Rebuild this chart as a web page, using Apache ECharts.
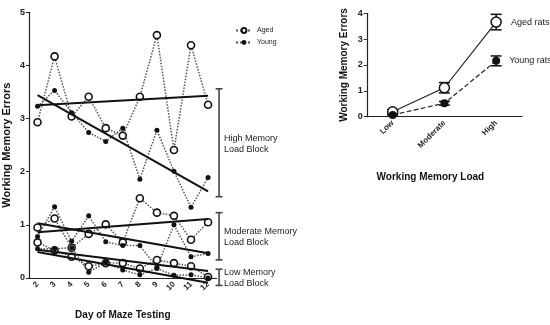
<!DOCTYPE html>
<html><head><meta charset="utf-8">
<script src="https://cdn.jsdelivr.net/npm/echarts@6/dist/echarts.min.js"></script>
<style>html,body{margin:0;padding:0;background:#fff}#c{width:550px;height:325px}</style>
</head><body><div id="c"></div>
<script>
// ---- Left panel data (days of maze testing) ----
const days = ['2','3','4','5','6','7','8','9','10','11','12'];
const agedHigh  = [2.93,4.17,3.04,3.41,2.82,2.68,3.41,4.57,2.41,4.38,3.26];
const youngHigh = [3.23,3.53,3.11,2.74,2.57,2.82,1.86,2.78,2.01,1.33,1.89];
const agedMod   = [0.95,1.12,0.57,0.83,1.01,0.67,1.50,1.23,1.17,0.72,1.05];
const youngMod  = [0.78,1.34,0.69,1.17,0.68,0.61,0.61,0.20,1.00,0.40,0.46];
const agedLow   = [0.67,0.52,0.40,0.22,0.28,0.28,0.18,0.34,0.28,0.22,0.02];
const youngLow  = [0.55,0.55,0.57,0.11,0.29,0.15,0.06,0.18,0.05,0.06,0.00];
// trend line end values (day 2, day 12)
const trendAgedHigh  = [3.25,3.43];
const trendYoungHigh = [3.44,1.63];
const trendAgedMod   = [0.86,1.11];
const trendYoungMod  = [1.03,0.465];
const trendAgedLow   = [0.53,0.13];
const trendYoungLow  = [0.49,-0.09];
// block brackets: [top, bottom]
const blockNames = ['High Memory\nLoad Block','Moderate Memory\nLoad Block','Low Memory\nLoad Block'];
const blockTop    = [3.56,1.23,0.165];
const blockBottom = [1.53,0.34,-0.14];
// ---- Right panel data ----
const loads = ['Low','Moderate','High'];
const agedRats  = [0.19,1.12,3.66];
const agedErr   = [0.08,0.20,0.30];
const youngRats = [0.07,0.52,2.16];
const youngErr  = [0.04,0.07,0.19];

const FONT = '"Liberation Sans", Arial, sans-serif';
const chart = echarts.init(document.getElementById('c'), null, {renderer:'canvas'});

function dotted(name, data, aged){
  return {
    type:'line', name:name, xAxisIndex:0, yAxisIndex:0, data:data,
    symbol:'circle', symbolSize: aged?7:5, showSymbol:true,
    itemStyle: aged?{color:'#fff',borderColor:'#111',borderWidth:1.6}:{color:'#111',borderColor:'#111',borderWidth:0},
    lineStyle:{type:'dotted',width:1.5,color:'#555'},
    z: aged?4:5, animation:false
  };
}
function trend(vals){
  return {
    type:'line', xAxisIndex:0, yAxisIndex:0, clip:false,
    data:[[days[0],vals[0]],[days[days.length-1],vals[1]]],
    symbol:'none', lineStyle:{type:'solid',width:2,color:'#111'}, z:6, animation:false, silent:true
  };
}
function errBars(vals, errs){
  return {
    type:'custom', xAxisIndex:1, yAxisIndex:1, z:3, animation:false,
    data: vals.map((v,i)=>[i, v-errs[i], v+errs[i]]),
    renderItem:function(params, api){
      const lo = api.coord([api.value(0), api.value(1)]);
      const hi = api.coord([api.value(0), api.value(2)]);
      const x = lo[0], w = 5.5;
      const st = {stroke:'#111', lineWidth:1.5};
      return {type:'group', children:[
        {type:'line', shape:{x1:x,y1:lo[1],x2:x,y2:hi[1]}, style:st},
        {type:'line', shape:{x1:x-w,y1:lo[1],x2:x+w,y2:lo[1]}, style:st},
        {type:'line', shape:{x1:x-w,y1:hi[1],x2:x+w,y2:hi[1]}, style:st}
      ]};
    }
  };
}

const option = {
  backgroundColor:'#fff',
  textStyle:{fontFamily:FONT},
  animation:false,
  legend:{
    data:['Aged','Young'], orient:'vertical', left:230, top:22, itemGap:5,
    itemWidth:16, itemHeight:6, textStyle:{fontSize:7,color:'#222',fontFamily:FONT}
  },
  grid:[
    {left:29, top:12.3, width:187.6, height:272},
    {left:366.8, top:13.3, width:155.2, height:103.4}
  ],
  xAxis:[
    {type:'category', gridIndex:0, data:days, boundaryGap:true,
     axisLine:{lineStyle:{color:'#222',width:1.2}},
     axisTick:{alignWithLabel:true, length:3, lineStyle:{color:'#222'}},
     axisLabel:{rotate:45, fontSize:8, fontWeight:'bold', color:'#222', margin:5, fontFamily:FONT},
     name:'Day of Maze Testing', nameLocation:'middle', nameGap:32,
     nameTextStyle:{fontSize:10, fontWeight:'bold', color:'#111', fontFamily:FONT}},
    {type:'category', gridIndex:1, data:loads, boundaryGap:true,
     axisLine:{lineStyle:{color:'#222',width:1.2}},
     axisTick:{alignWithLabel:true, length:3, lineStyle:{color:'#222'}},
     axisLabel:{rotate:45, fontSize:8, fontWeight:'bold', color:'#222', margin:5, fontFamily:FONT},
     name:'Working Memory Load', nameLocation:'middle', nameGap:56,
     nameTextStyle:{fontSize:10, fontWeight:'bold', color:'#111', padding:[0,28,0,0], fontFamily:FONT}}
  ],
  yAxis:[
    {type:'value', gridIndex:0, min:0, max:5, interval:1,
     axisLine:{show:true, lineStyle:{color:'#222',width:1.2}},
     axisTick:{show:true, length:3, lineStyle:{color:'#222'}},
     splitLine:{show:false},
     axisLabel:{fontSize:9, fontWeight:'bold', color:'#222', margin:4, fontFamily:FONT},
     name:'Working Memory Errors', nameLocation:'middle', nameGap:17,
     nameTextStyle:{fontSize:11, fontWeight:'bold', color:'#111', fontFamily:FONT}},
    {type:'value', gridIndex:1, min:0, max:4, interval:1,
     axisLine:{show:true, lineStyle:{color:'#222',width:1.2}},
     axisTick:{show:true, length:3, lineStyle:{color:'#222'}},
     splitLine:{show:false},
     axisLabel:{fontSize:9, fontWeight:'bold', color:'#222', margin:4, fontFamily:FONT},
     name:'Working Memory Errors', nameLocation:'middle', nameGap:18,
     nameTextStyle:{fontSize:10, fontWeight:'bold', color:'#111', fontFamily:FONT}}
  ],
  series:[
    dotted('Aged', agedHigh, true),
    dotted('Young', youngHigh, false),
    dotted('Aged', agedMod, true),
    dotted('Young', youngMod, false),
    dotted('Aged', agedLow, true),
    dotted('Young', youngLow, false),
    trend(trendAgedHigh), trend(trendYoungHigh),
    trend(trendAgedMod), trend(trendYoungMod),
    trend(trendAgedLow), trend(trendYoungLow),
    {
      type:'custom', xAxisIndex:0, yAxisIndex:0, clip:false, silent:true, animation:false,
      data: blockTop.map((t,i)=>[days.length-1, t, blockBottom[i]]),
      renderItem:function(params, api){
        const a = api.coord([api.value(0), api.value(1)]);
        const b = api.coord([api.value(0), api.value(2)]);
        const x = a[0] + 11, w = 3.5;
        const st = {stroke:'#444', lineWidth:1.6};
        return {type:'group', children:[
          {type:'line', shape:{x1:x,y1:a[1],x2:x,y2:b[1]}, style:st},
          {type:'line', shape:{x1:x-w,y1:a[1],x2:x+w,y2:a[1]}, style:st},
          {type:'line', shape:{x1:x-w,y1:b[1],x2:x+w,y2:b[1]}, style:st},
          {type:'text', style:{x:x+5, y:(a[1]+b[1])/2+1, text:blockNames[params.dataIndex],
            fill:'#222', font:'9px '+FONT, verticalAlign:'middle', align:'left', lineHeight:11}}
        ]};
      }
    },
    errBars(agedRats, agedErr),
    errBars(youngRats, youngErr),
    {
      type:'line', name:'Aged rats', xAxisIndex:1, yAxisIndex:1, animation:false,
      data: agedRats.map((v,i)=> i===agedRats.length-1 ?
        {value:v, label:{show:true, position:'right', distance:9, formatter:'Aged rats', fontSize:9, color:'#222', fontFamily:FONT}} : v),
      symbol:'circle', symbolSize:10,
      itemStyle:{color:'#fff', borderColor:'#111', borderWidth:1.5},
      lineStyle:{type:'solid', width:1.2, color:'#222'}, z:5
    },
    {
      type:'line', name:'Young rats', xAxisIndex:1, yAxisIndex:1, animation:false,
      data: youngRats.map((v,i)=> i===youngRats.length-1 ?
        {value:v, label:{show:true, position:'right', distance:9, formatter:'Young rats', fontSize:9, color:'#222', fontFamily:FONT}} : v),
      symbol:'circle', symbolSize:8,
      itemStyle:{color:'#111', borderColor:'#111', borderWidth:0},
      lineStyle:{type:'dashed', width:1.2, color:'#222'}, z:6
    }
  ]
};
chart.setOption(option);
</script>
</body></html>
